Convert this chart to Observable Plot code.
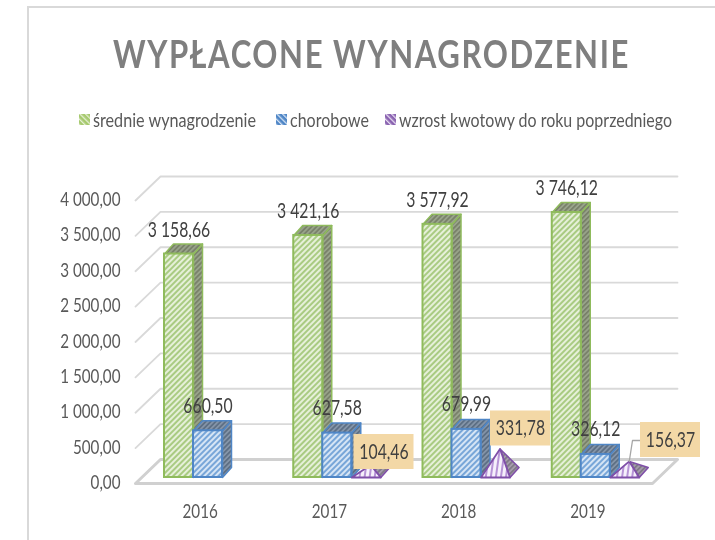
<!DOCTYPE html>
<html><head><meta charset="utf-8">
<script src="https://cdn.jsdelivr.net/npm/d3@7"></script>
<script src="https://cdn.jsdelivr.net/npm/@observablehq/plot@0.6"></script>
<style>
html,body{margin:0;padding:0;background:#fff;width:715px;height:540px;overflow:hidden}
body{position:relative;font-family:Lato,"Open Sans",sans-serif}
#frame{position:absolute;left:27px;top:6px;right:-4px;bottom:-4px;border:2px solid #d9d9d9;box-sizing:border-box}
#head{position:relative;height:150px;filter:blur(.3px)}
#title{position:absolute;left:113px;top:28px;font-weight:700;font-size:39px;letter-spacing:2px;color:#7f7f7f;line-height:50px;white-space:nowrap;transform-origin:0 50%}
#legend{position:absolute;top:108px;left:0;height:24px;font-size:18.5px;color:#595959;white-space:nowrap}
#legend span{position:absolute;top:0;line-height:24px;transform-origin:0 50%}
#legend i{position:absolute;top:6px;width:11px;height:11px;display:block}
#legend i svg{display:block}
#chart svg{display:block;filter:blur(.3px)}
</style></head><body>
<svg width="0" height="0" style="position:absolute">
<defs>
<pattern id="gF" width="4" height="4" patternUnits="userSpaceOnUse" patternTransform="rotate(45)"><rect width="4" height="4" fill="#e6f0d9"/><rect width="2" height="4" fill="#a9cb82"/></pattern>
<pattern id="gD" width="3.5" height="3.5" patternUnits="userSpaceOnUse" patternTransform="rotate(45)"><rect width="3.5" height="3.5" fill="#98a38a"/><rect width="1.7" height="3.5" fill="#788069"/></pattern>
<pattern id="bF" width="4" height="4" patternUnits="userSpaceOnUse" patternTransform="rotate(45)"><rect width="4" height="4" fill="#d6e5f5"/><rect width="2" height="4" fill="#78a6d8"/></pattern>
<pattern id="bD" width="3.5" height="3.5" patternUnits="userSpaceOnUse" patternTransform="rotate(45)"><rect width="3.5" height="3.5" fill="#8494a8"/><rect width="1.7" height="3.5" fill="#5c6e83"/></pattern>
<pattern id="pF" width="5" height="5" patternUnits="userSpaceOnUse" patternTransform="rotate(8)"><rect width="5" height="5" fill="#f6f0fb"/><rect width="2" height="5" fill="#b794d6"/></pattern>
<pattern id="pD" width="3.5" height="3.5" patternUnits="userSpaceOnUse" patternTransform="rotate(45)"><rect width="3.5" height="3.5" fill="#a49cab"/><rect width="1.7" height="3.5" fill="#7f7886"/></pattern>
<pattern id="gL" width="4" height="4" patternUnits="userSpaceOnUse" patternTransform="rotate(-45)"><rect width="4" height="4" fill="#a6c96e"/><rect width="1.3" height="4" fill="#e6f0d6"/></pattern>
<pattern id="bL" width="4" height="4" patternUnits="userSpaceOnUse" patternTransform="rotate(-45)"><rect width="4" height="4" fill="#4f86c6"/><rect width="1.3" height="4" fill="#d5e3f4"/></pattern>
<pattern id="pL" width="4" height="4" patternUnits="userSpaceOnUse" patternTransform="rotate(-45)"><rect width="4" height="4" fill="#8a63b0"/><rect width="1.3" height="4" fill="#e8def2"/></pattern>
</defs></svg>
<div id="frame"></div>
<div id="head">
<div id="title" data-w="517">WYPŁACONE WYNAGRODZENIE</div>
<div id="legend">
<i style="left:79px"><svg width="11" height="11"><rect width="11" height="11" fill="url(#gL)"/></svg></i><span style="left:93px" data-w="163">średnie wynagrodzenie</span>
<i style="left:276px"><svg width="11" height="11"><rect width="11" height="11" fill="url(#bL)"/></svg></i><span style="left:290px" data-w="79">chorobowe</span>
<i style="left:385px"><svg width="11" height="11"><rect width="11" height="11" fill="url(#pL)"/></svg></i><span style="left:399px" data-w="273">wzrost kwotowy do roku poprzedniego</span>
</div></div>
<div id="chart"></div>
<script>
const years = ["2016","2017","2018","2019"];
const salary = [3158.66,3421.16,3577.92,3746.12];
const sick = [660.50,627.58,679.99,326.12];
const growth = [null,104.46,331.78,156.37];
const yTicks = [0,500,1000,1500,2000,2500,3000,3500,4000];

const fmt = v => {
  const [a,b] = v.toFixed(2).split(".");
  return a.replace(/\B(?=(\d{3})+$)/g," ") + "," + b;
};

// Scales: one x unit is one category, y is the value. Pixels per unit:
const xRange = [135,652], yRange = [333,50];
const pxX = (xRange[1]-xRange[0])/4, pxY = (yRange[0]-yRange[1])/4000;
const ux = p => p/pxX, uy = p => p/pxY;   // pixel lengths to data lengths

// floor / back wall depth
const wallX = ux(25), wallY = uy(24);
// bars: slot width, inset in a category, lift over front of floor, bar depth
const slot = ux(29), inset = ux(29), lift = uy(6), barDX = ux(9), barDY = uy(10);
const px = (i,s,f=0,d=0) => i + inset + (s+f)*slot + d*barDX;
const py = (v,d=0) => v + lift + d*barDY;

const poly = faces => faces.flatMap((pts,k)=>[...pts,pts[0]].map(([x,y])=>({x,y,k})));
const lineMark = (faces,o) => Plot.line(poly(faces),{x:"x",y:"y",z:"k",curve:"linear",strokeLinejoin:"round",...o});

function barMarks(vals,s,front,dark,edge){
  const idx = d3.range(4);
  const sides = idx.map(i=>[[px(i,s,1),py(0)],[px(i,s,1,1),py(0,1)],[px(i,s,1,1),py(vals[i],1)],[px(i,s,1),py(vals[i])]]);
  const tops = idx.map(i=>[[px(i,s),py(vals[i])],[px(i,s,1),py(vals[i])],[px(i,s,1,1),py(vals[i],1)],[px(i,s,0,1),py(vals[i],1)]]);
  return [
    lineMark(sides,{fill:dark,stroke:edge,strokeWidth:1.5}),
    lineMark(tops,{fill:dark,stroke:edge,strokeWidth:1.5}),
    Plot.rect(idx,{x1:i=>px(i,s),x2:i=>px(i,s,1),y1:()=>py(0),y2:i=>py(vals[i]),fill:front,stroke:edge,strokeWidth:2})
  ];
}
function pyramidMarks(vals,s,front,dark,edge){
  const idx = [1,2,3];
  const apex = i=>[px(i,s,.5,.5),py(vals[i],.5)];
  const right = idx.map(i=>[[px(i,s,1),py(0)],[px(i,s,1,1),py(0,1)],apex(i)]);
  const fr = idx.map(i=>[[px(i,s),py(0)],[px(i,s,1),py(0)],apex(i)]);
  return [
    lineMark(right,{fill:dark,stroke:edge,strokeWidth:1.6}),
    lineMark(fr,{fill:front,stroke:edge,strokeWidth:1.8})
  ];
}

// floor and walls
const floor = [[0,0],[4,0],[4+wallX,wallY],[wallX,wallY]];
const gridRows = yTicks.slice(1);

// orange value boxes: centres converted from the box layout in px
const boxIdx = [1,2,3];
const boxCx = {1:ux(383.5-135), 2:ux(520-135), 3:ux(670-135)};
const boxCy = {1:uy(333-(451.5-150)), 2:uy(333-(428-150)), 3:uy(333-(439.5-150))};
const boxW = ux(60), boxH = uy(35);
const lead = [{x:px(3,2,.5,.5),y:py(growth[3],.5)},{x:ux(632-135),y:uy(333-(440-150))},{x:ux(640-135),y:uy(333-(440-150))}];

const labelText = {fontSize:21,fill:"#404040",textAnchor:"middle"};

const plot = Plot.plot({
  width:715,height:390,marginLeft:125,marginRight:0,marginTop:0,marginBottom:45,
  style:{background:"transparent",fontFamily:'Lato,"Open Sans",sans-serif'},
  x:{type:"linear",domain:[0,4],range:xRange,axis:null,label:null},
  y:{type:"linear",domain:[0,4000],range:yRange,axis:null,label:null},
  marks:[
    Plot.line(gridRows.flatMap(v=>[{x:0,y:v,k:v},{x:wallX,y:v+wallY,k:v},{x:4+wallX,y:v+wallY,k:v}]),
      {x:"x",y:"y",z:"k",stroke:"#d9d9d9",strokeWidth:1.8}),
    lineMark([floor],{fill:"#fff",stroke:"#d0d0d0",strokeWidth:3}),
    Plot.axisY({ticks:yTicks,anchor:"left",label:null,tickSize:0,tickPadding:5,tickFormat:fmt,fontSize:19,fill:"#595959",dy:-.5}),
    Plot.axisX({ticks:[.5,1.5,2.5,3.5],anchor:"bottom",label:null,tickSize:0,tickPadding:9,tickFormat:d=>years[Math.floor(d)],fontSize:19,fill:"#595959"}),
    ...barMarks(salary,0,"url(#gF)","url(#gD)","#8fbb5c"),
    ...barMarks(sick,1,"url(#bF)","url(#bD)","#4f86c6"),
    ...pyramidMarks(growth,2,"url(#pF)","url(#pD)","#7f4fa8"),
    Plot.text(salary,{x:(d,i)=>px(i,0,.5),y:d=>py(d),text:fmt,dy:-24,...labelText}),
    Plot.text(sick,{x:(d,i)=>px(i,1,.5),y:d=>py(d),text:fmt,dy:-25,...labelText}),
    Plot.line(lead,{x:"x",y:"y",stroke:"#a6a6a6",strokeWidth:1.3}),
    Plot.rect(boxIdx,{x1:i=>boxCx[i]-boxW/2,x2:i=>boxCx[i]+boxW/2,y1:i=>boxCy[i]-boxH/2,y2:i=>boxCy[i]+boxH/2,fill:"#f3d8a6"}),
    Plot.text(boxIdx,{x:i=>boxCx[i],y:i=>boxCy[i],text:i=>fmt(growth[i]),...labelText})
  ]
});
document.getElementById("chart").append(plot);

// the reference's typeface is condensed: squeeze texts horizontally
function squeeze(){
  plot.querySelectorAll("text").forEach(t=>{
    t.removeAttribute("textLength");
    t.removeAttribute("lengthAdjust");
    const size = parseFloat(getComputedStyle(t).fontSize);
    const w = t.getComputedTextLength();
    t.setAttribute("textLength",(w*(size>20?.75:.8)).toFixed(1));
    t.setAttribute("lengthAdjust","spacingAndGlyphs");
  });
  document.querySelectorAll("[data-w]").forEach(el=>{
    el.style.transform = "none";
    const w = el.getBoundingClientRect().width;
    el.style.transform = `scaleX(${+el.dataset.w/w})`;
  });
}
squeeze();
if (document.fonts && document.fonts.ready) document.fonts.ready.then(squeeze);
</script>
</body></html>
